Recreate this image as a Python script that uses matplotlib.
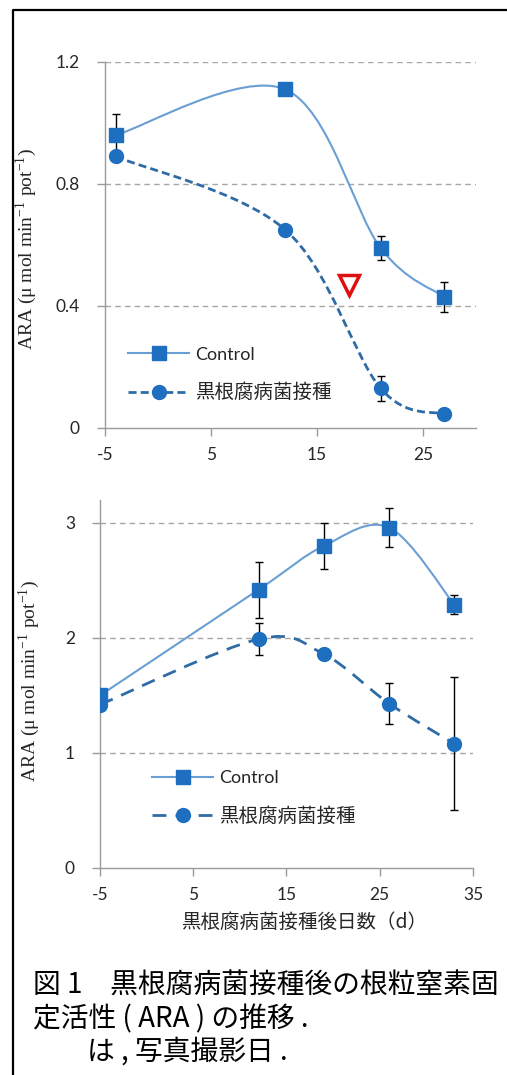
import numpy as np
import matplotlib
matplotlib.use("Agg")
import matplotlib.pyplot as plt
from matplotlib.path import Path
from matplotlib.patches import PathPatch
from matplotlib.lines import Line2D

plt.rcParams['font.family'] = ['Lato', 'Noto Sans CJK JP', 'DejaVu Sans']
plt.rcParams['mathtext.fontset'] = 'stix'
plt.rcParams['axes.unicode_minus'] = False

# upper panel
days_a = [-4, 12, 21, 27]
ctrl_a = [0.96, 1.11, 0.59, 0.43]
ctrl_a_err = [0.07, 0.015, 0.04, 0.05]
inoc_a = [0.89, 0.65, 0.13, 0.045]
inoc_a_err = [0.01, 0.01, 0.04, 0.01]
photo_day = 18
photo_ara = 0.47

# lower panel
days_b = [-5, 12, 19, 26, 33]
ctrl_b = [1.50, 2.42, 2.80, 2.96, 2.29]
ctrl_b_err = [0.03, 0.245, 0.20, 0.17, 0.08]
inoc_b = [1.42, 1.99, 1.86, 1.43, 1.08]
inoc_b_err = [0.03, 0.14, 0.04, 0.18, 0.58]

labels = ['Control', '黒根腐病菌接種']
ylabel = r'ARA (μ mol min$^{\mathregular{-1}}$ pot$^{\mathregular{-1}}$)'
xlabel = '黒根腐病菌接種後日数（d）'
caption = ['図 1　黒根腐病菌接種後の根粒窒素固',
           '定活性 ( ARA ) の推移 .',
           'は , 写真撮影日 .']

CTRL_LINE = '#6A9FD4'
INOC_LINE = '#2F6CA6'
MARK = '#1E6FBF'
GRID = '#A6A6A6'
SPINE = '#9A9A9A'
TXT = '#262626'


def smooth_path(x, y):
    # Catmull-Rom style bezier through the points (Excel "smoothed line")
    pts = np.column_stack([x, y]).astype(float)
    n = len(pts)
    verts = [pts[0]]
    codes = [Path.MOVETO]
    for i in range(n - 1):
        p0 = pts[max(i - 1, 0)]
        p1 = pts[i]
        p2 = pts[i + 1]
        p3 = pts[min(i + 2, n - 1)]
        verts += [p1 + (p2 - p0) / 6, p2 - (p3 - p1) / 6, p2]
        codes += [Path.CURVE4] * 3
    return Path(verts, codes)


def draw_series(ax, x, y, err, marker, color, lw, dashes):
    ax.errorbar(x, y, yerr=err, fmt='none', ecolor='black', elinewidth=1,
                capsize=3, capthick=1, zorder=2)
    ls = '-' if dashes is None else (0, dashes)
    patch = PathPatch(smooth_path(x, y), fill=False, edgecolor=color, lw=lw,
                      linestyle=ls, capstyle='butt', zorder=3)
    ax.add_patch(patch)
    ax.plot(x, y, linestyle='none', marker=marker, ms=10, mfc=MARK, mec=MARK,
            zorder=4)


def style_axes(ax, xlim, xticks, ylim, yticks, yfmt):
    ax.set_xlim(*xlim)
    ax.set_ylim(*ylim)
    ax.set_xticks(xticks)
    ax.set_yticks(yticks)
    ax.set_yticklabels([yfmt(v) for v in yticks])
    for s in ['top', 'right']:
        ax.spines[s].set_visible(False)
    for s in ['left', 'bottom']:
        ax.spines[s].set_color(SPINE)
        ax.spines[s].set_linewidth(1)
    ax.tick_params(direction='out', length=6, width=1, color=SPINE,
                   labelsize=12.5, labelcolor=TXT)
    ax.tick_params(axis='y', pad=12)
    ax.tick_params(axis='x', pad=8)
    for v in yticks[1:]:
        ax.axhline(v, color=GRID, lw=1, dashes=(4, 3), zorder=1)


def add_legend(ax, anchor, dash):
    h = [Line2D([], [], color=CTRL_LINE, lw=1.5, marker='s', ms=10,
                mfc=MARK, mec=MARK),
         Line2D([], [], color=INOC_LINE, lw=2, dashes=dash, marker='o',
                ms=10, mfc=MARK, mec=MARK)]
    leg = ax.legend(h, labels, loc='upper left', bbox_to_anchor=anchor,
                    frameon=False, fontsize=13, handlelength=3.4,
                    handletextpad=0.3, labelspacing=1.1, borderpad=0,
                    borderaxespad=0, numpoints=1)
    for t in leg.get_texts():
        t.set_color(TXT)
    leg.get_texts()[1].set_fontsize(14)


fig = plt.figure(figsize=(5.07, 10.75), dpi=100)

ax1 = fig.add_axes([0.2071, 0.6019, 0.7318, 0.3405])
style_axes(ax1, (-5, 30), [-5, 5, 15, 25], (0, 1.2), [0, 0.4, 0.8, 1.2],
           lambda v: '0' if v == 0 else f'{v:.1f}')
draw_series(ax1, days_a, ctrl_a, ctrl_a_err, 's', CTRL_LINE, 1.5, None)
draw_series(ax1, days_a, inoc_a, inoc_a_err, 'o', INOC_LINE, 2, (2.9, 1.5))
ax1.plot([photo_day], [photo_ara], marker='v', ms=15, mfc='white',
         mec='#E01010', mew=2.5, linestyle='none', zorder=5)
add_legend(ax1, (0.062, 0.222), (2.9, 1.5))
ax1.set_ylabel(ylabel, family='Liberation Serif', fontsize=14, color=TXT)
ax1.yaxis.set_label_coords(-0.178, 0.49)

ax2 = fig.add_axes([0.1972, 0.1926, 0.7357, 0.3423])
style_axes(ax2, (-5, 35), [-5, 5, 15, 25, 35], (0, 3.2), [0, 1, 2, 3],
           lambda v: f'{v:d}')
draw_series(ax2, days_b, ctrl_b, ctrl_b_err, 's', CTRL_LINE, 1.5, None)
draw_series(ax2, days_b, inoc_b, inoc_b_err, 'o', INOC_LINE, 2, (5, 3.3))
add_legend(ax2, (0.139, 0.266), (5, 3.3))
ax2.set_ylabel(ylabel, family='Liberation Serif', fontsize=14, color=TXT)
ax2.yaxis.set_label_coords(-0.155, 0.51)

fig.text(304 / 507, 1 - 922 / 1075, xlabel, family='Noto Sans CJK JP',
         fontsize=14, color=TXT, ha='center', va='center')

# caption under the charts
cap_y = [986, 1019, 1052]
cap_x = [33, 33, 87]
for s, x, y in zip(caption, cap_x, cap_y):
    fig.text(x / 507, 1 - y / 1075, s, family='Noto Sans CJK JP',
             fontsize=20, color='black', ha='left', va='center')

# frame lines (top and left)
fig.add_artist(Line2D([13 / 507, 13 / 507, 1], [0, 1 - 10 / 1075, 1 - 10 / 1075],
                      transform=fig.transFigure, color='black', lw=1.6))

fig.savefig('out.png', dpi=100)
